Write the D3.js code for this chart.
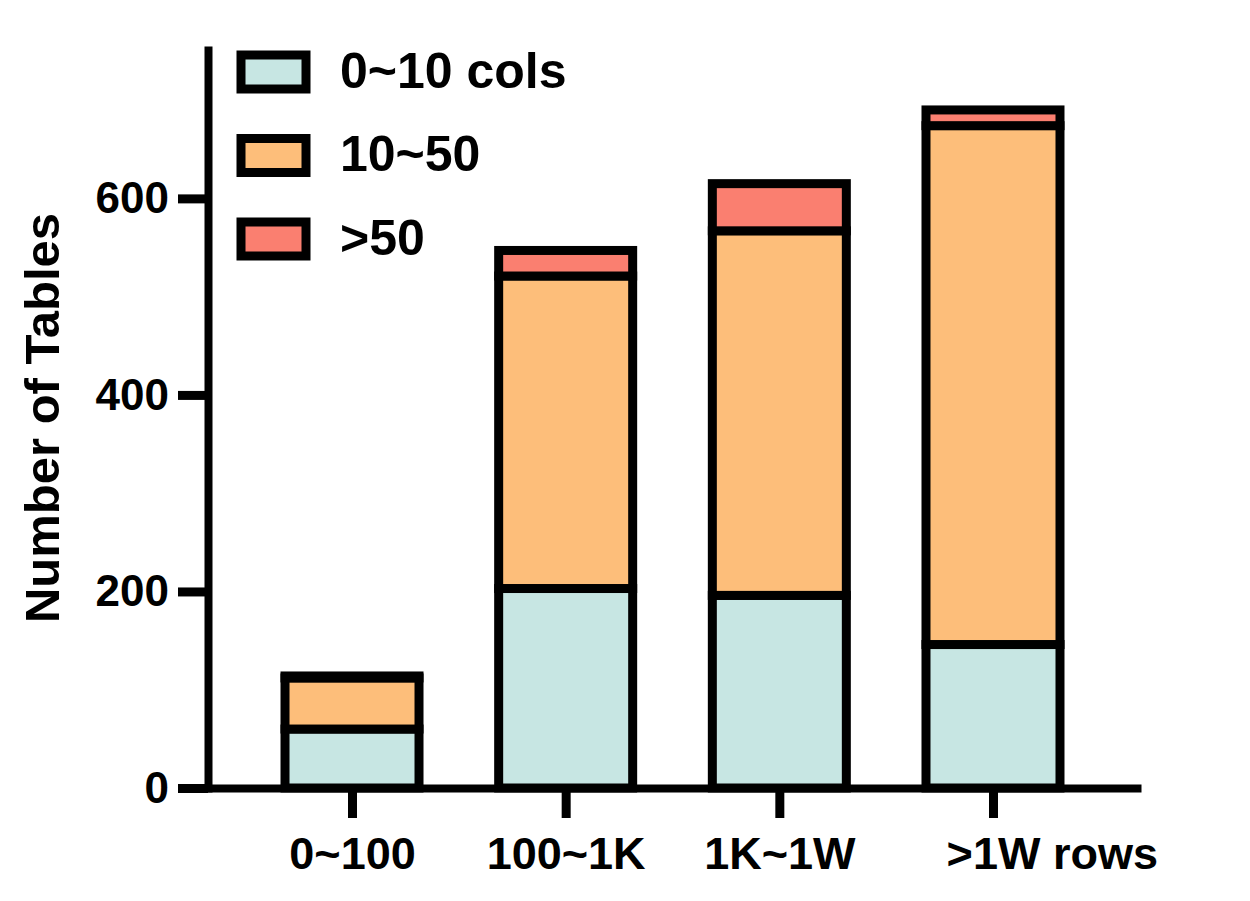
<!DOCTYPE html>
<html>
<head>
<meta charset="utf-8">
<script src="https://cdn.jsdelivr.net/npm/d3@7"></script>
<style>
  body { margin: 0; background: #fff; }
  svg { display: block; font-family: "Liberation Sans", Arial, sans-serif; font-weight: bold; }
</style>
</head>
<body>
<div id="chart"></div>
<script>
// data
let categories = ['0~100', '100~1K', '1K~1W', '>1W rows'];
let seriesNames = ['0~10 cols', '10~50', '>50'];
let cols0to10 = [60, 203, 196, 146];
let cols10to50 = [52, 318, 371, 528];
let colsOver50 = [2, 26, 48, 16];
let yTicks = [0, 200, 400, 600];
let colors = ['#c7e6e3', '#fdbe7a', '#fa7f70'];

let width = 1250,
    height = 901,
    stroke = 9,
    barWidth = 134;

let svg = d3.select('#chart')
  .append('svg')
  .attr('width', width)
  .attr('height', height);

let rows = categories.map((c, i) => ({
  cat: c,
  s0: cols0to10[i],
  s1: cols10to50[i],
  s2: colsOver50[i]
}));

let stacked = d3.stack().keys(['s0', 's1', 's2'])(rows);

let yScale = d3.scaleLinear()
  .domain([0, 751])
  .range([788, 50]);

let xScale = d3.scalePoint()
  .domain(categories)
  .range([208, 1137])
  .padding(0.674);

// bars
let groups = svg.selectAll('g.series')
  .data(stacked)
  .enter()
  .append('g')
  .attr('class', 'series')
  .attr('fill', (d, i) => colors[i]);

groups.selectAll('rect')
  .data(d => d.filter(p => p[1] - p[0] > 0))
  .enter()
  .append('rect')
  .attr('x', d => xScale(d.data.cat) - barWidth / 2)
  .attr('y', d => yScale(d[1]))
  .attr('width', barWidth)
  .attr('height', d => yScale(d[0]) - yScale(d[1]))
  .attr('stroke', '#000')
  .attr('stroke-width', stroke);

// axes
let yAxis = d3.axisLeft(yScale)
  .tickValues(yTicks)
  .tickSize(30)
  .tickSizeOuter(0)
  .tickPadding(9);

let xAxis = d3.axisBottom(xScale)
  .tickSize(30)
  .tickSizeOuter(0)
  .tickPadding(19);

let gx = svg.append('g')
  .attr('transform', 'translate(0, 788)')
  .call(xAxis);

let gy = svg.append('g')
  .attr('transform', 'translate(208, 0)')
  .call(yAxis);

[gx, gy].forEach(g => {
  g.select('.domain').attr('stroke', '#000').attr('stroke-width', 8).attr('stroke-linecap', 'square');
  g.selectAll('.tick line').attr('stroke', '#000').attr('stroke-width', 9);
  g.selectAll('.tick text')
    .attr('fill', '#000')
    .style('font-family', '"Liberation Sans", Arial, sans-serif')
    .style('font-weight', 'bold');
});
gx.selectAll('.tick text').style('font-size', '45px');
gy.selectAll('.tick text').style('font-size', '44px');

// the last label is centred on its ">1W" part, " rows" hangs to the right
gx.selectAll('.tick text')
  .filter(d => d === '>1W rows')
  .each(function() {
    let t = d3.select(this);
    let probe = t.clone().text('>1W');
    let w = probe.node().getComputedTextLength();
    probe.remove();
    t.attr('text-anchor', 'start').attr('x', -w / 2);
  });

// y title
svg.append('text')
  .attr('transform', 'translate(59, 418) rotate(-90)')
  .attr('text-anchor', 'middle')
  .style('font-size', '49px')
  .text('Number of Tables');

// legend
let legendY = [72, 155.5, 239];
let legend = svg.append('g').attr('id', 'legend');

legend.selectAll('rect')
  .data(seriesNames)
  .enter()
  .append('rect')
  .attr('x', 241)
  .attr('y', (d, i) => legendY[i] - 17)
  .attr('width', 65)
  .attr('height', 34)
  .attr('fill', (d, i) => colors[i])
  .attr('stroke', '#000')
  .attr('stroke-width', 9);

legend.selectAll('text')
  .data(seriesNames)
  .enter()
  .append('text')
  .attr('x', 340)
  .attr('y', (d, i) => legendY[i] - 2)
  .attr('dy', '0.35em')
  .style('font-size', '50px')
  .text(d => d);
</script>
</body>
</html>
